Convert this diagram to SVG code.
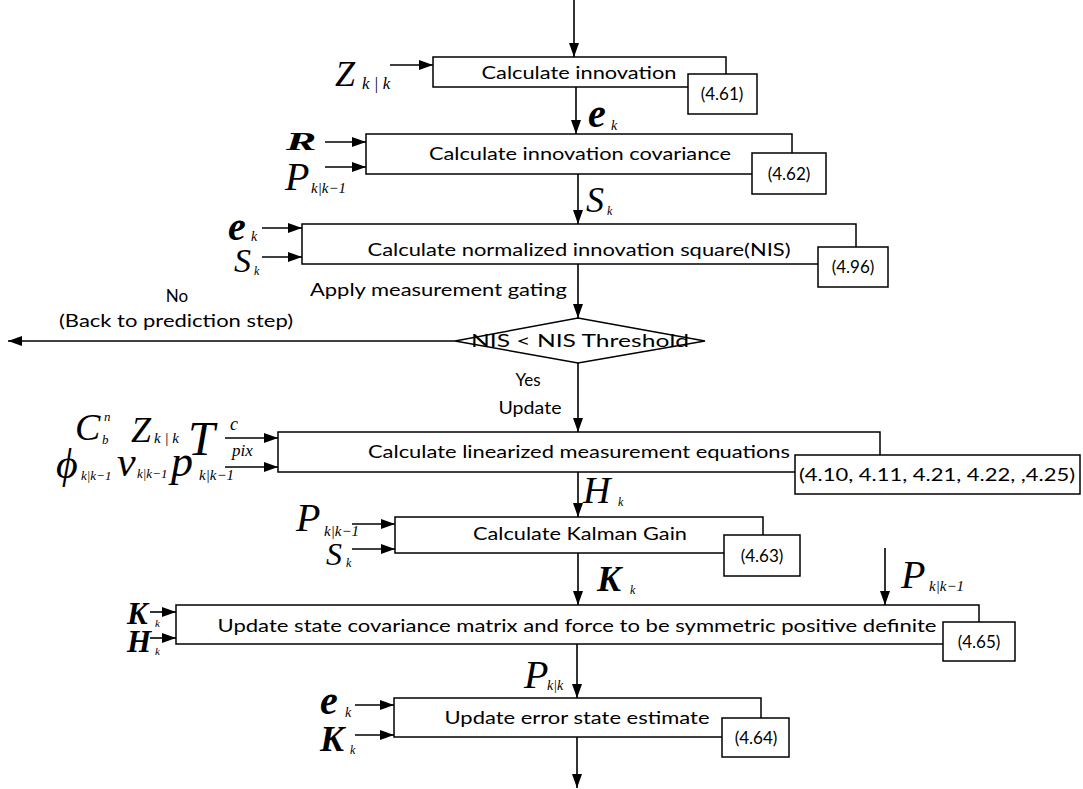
<svg xmlns="http://www.w3.org/2000/svg" width="1083" height="789" viewBox="0 0 1083 789">
  <defs>
    <marker id="ah" markerUnits="userSpaceOnUse" markerWidth="14" markerHeight="10" refX="14" refY="5" orient="auto">
      <path d="M0,0 L14,5 L0,10 z" fill="#000"/>
    </marker>
    <style>
      .box { fill: #fff; stroke: #000; stroke-width: 1.5; }
      .t { font-family: Lato, "Liberation Sans", sans-serif; font-size: 17px; text-anchor: middle; fill: #000; }
      .lbl { font-family: Lato, "Liberation Sans", sans-serif; font-size: 17px; fill: #000; }
      .m { font-family: "Liberation Serif", "DejaVu Serif", serif; font-style: italic; fill: #000; }
      .mb { font-family: "Liberation Serif", "DejaVu Serif", serif; font-style: italic; font-weight: bold; fill: #000; }
      .c { stroke: #000; stroke-width: 1.6; fill: none; marker-end: url(#ah); }
    </style>
  </defs>
  <rect width="1083" height="789" fill="#fff"/>

  <!-- connectors -->
  <g id="connectors">
    <line class="c" x1="574" y1="0" x2="574" y2="57"/>
    <line class="c" x1="390" y1="65" x2="433" y2="65"/>
    <line class="c" x1="576" y1="87" x2="576" y2="134"/>
    <line class="c" x1="325" y1="142" x2="366" y2="142"/>
    <line class="c" x1="325" y1="167" x2="366" y2="167"/>
    <line class="c" x1="578" y1="174" x2="578" y2="224"/>
    <line class="c" x1="262" y1="228" x2="302" y2="228"/>
    <line class="c" x1="262" y1="257" x2="302" y2="257"/>
    <line class="c" x1="578" y1="264" x2="578" y2="318"/>
    <line class="c" x1="455" y1="341" x2="8" y2="341"/>
    <line class="c" x1="578" y1="363" x2="578" y2="432"/>
    <line class="c" x1="225" y1="438" x2="278" y2="438"/>
    <line class="c" x1="225" y1="467" x2="278" y2="467"/>
    <line class="c" x1="578" y1="472" x2="578" y2="517"/>
    <line class="c" x1="352" y1="524" x2="395" y2="524"/>
    <line class="c" x1="352" y1="549" x2="395" y2="549"/>
    <line class="c" x1="578" y1="553" x2="578" y2="605"/>
    <line class="c" x1="885" y1="548" x2="885" y2="605"/>
    <line class="c" x1="150" y1="612" x2="176" y2="612"/>
    <line class="c" x1="150" y1="638" x2="176" y2="638"/>
    <line class="c" x1="577" y1="644" x2="577" y2="698"/>
    <line class="c" x1="355" y1="705" x2="394" y2="705"/>
    <line class="c" x1="355" y1="735" x2="394" y2="735"/>
    <line class="c" x1="577" y1="737" x2="577" y2="788"/>
  </g>

  <!-- step 1: innovation -->
  <g id="n-innov">
    <rect class="box" x="433" y="57" width="293" height="30"/>
    <text class="t" x="579" y="79" textLength="195" lengthAdjust="spacingAndGlyphs">Calculate innovation</text>
    <rect class="box" x="688" y="74" width="69" height="40"/>
    <text class="t" x="722" y="100">(4.61)</text>
  </g>
  <g id="in-innov">
    <text class="m" x="335" y="86" font-size="36">Z</text>
    <text class="m" x="362" y="89" font-size="17">k | k</text>
  </g>
  <g id="lbl-e1">
    <text class="mb" x="588" y="127" font-size="40">e</text>
    <text class="m" x="611" y="130" font-size="14">k</text>
  </g>

  <!-- step 2: innovation covariance -->
  <g id="n-innovcov">
    <rect class="box" x="366" y="134" width="426" height="40"/>
    <text class="t" x="580" y="160" textLength="302" lengthAdjust="spacingAndGlyphs">Calculate innovation covariance</text>
    <rect class="box" x="752" y="153" width="74" height="41"/>
    <text class="t" x="789" y="180">(4.62)</text>
  </g>
  <g id="in-innovcov">
    <text class="mb" x="0" y="0" font-size="26" transform="translate(286,150) scale(1.75,1)">R</text>
    <text class="m" x="285" y="190" font-size="40">P</text>
    <text class="m" x="311" y="193" font-size="15">k|k−1</text>
  </g>
  <g id="lbl-s1">
    <text class="m" x="586" y="212" font-size="36">S</text>
    <text class="m" x="607" y="215" font-size="12">k</text>
  </g>

  <!-- step 3: NIS -->
  <g id="n-nis">
    <rect class="box" x="302" y="224" width="554" height="40"/>
    <text class="t" x="579" y="256" textLength="423" lengthAdjust="spacingAndGlyphs">Calculate normalized innovation square(NIS)</text>
    <rect class="box" x="818" y="247" width="70" height="40"/>
    <text class="t" x="853" y="273">(4.96)</text>
  </g>
  <g id="in-nis">
    <text class="mb" x="228" y="240" font-size="40">e</text>
    <text class="m" x="251" y="241" font-size="14">k</text>
    <text class="m" x="234" y="272" font-size="34">S</text>
    <text class="m" x="254" y="275" font-size="12">k</text>
  </g>
  <text class="lbl" x="310" y="296" textLength="257" lengthAdjust="spacingAndGlyphs">Apply measurement gating</text>

  <!-- gating decision -->
  <g id="n-gate">
    <polygon class="box" points="455,341 578,318 705,341 578,363"/>
    <text class="t" x="580" y="347" textLength="218" lengthAdjust="spacingAndGlyphs">NIS &lt; NIS Threshold</text>
  </g>
  <text class="t" x="177" y="302">No</text>
  <text class="t" x="176" y="327" textLength="234" lengthAdjust="spacingAndGlyphs">(Back to prediction step)</text>
  <text class="t" x="528" y="386">Yes</text>
  <text class="t" x="530" y="414" textLength="63" lengthAdjust="spacingAndGlyphs">Update</text>

  <!-- step 4: linearized measurement equations -->
  <g id="n-linear">
    <rect class="box" x="278" y="432" width="602" height="40"/>
    <text class="t" x="579" y="458" textLength="422" lengthAdjust="spacingAndGlyphs">Calculate linearized measurement equations</text>
    <rect class="box" x="795" y="455" width="285" height="39"/>
    <text class="t" x="937" y="481" textLength="276" lengthAdjust="spacingAndGlyphs">(4.10, 4.11, 4.21, 4.22, ,4.25)</text>
  </g>
  <g id="in-linear">
    <text class="m" x="75" y="440" font-size="38">C</text>
    <text class="m" x="104" y="421" font-size="13">n</text>
    <text class="m" x="102" y="444" font-size="13">b</text>
    <text class="m" x="131" y="442" font-size="36">Z</text>
    <text class="m" x="154" y="443" font-size="15">k | k</text>
    <text class="m" x="188" y="455" font-size="48">T</text>
    <text class="m" x="230" y="430" font-size="18">c</text>
    <text class="m" x="232" y="456" font-size="17">pix</text>
    <text class="m" x="56" y="478" font-size="42">ϕ</text>
    <text class="m" x="81" y="480" font-size="13">k|k−1</text>
    <text class="m" x="117" y="476" font-size="42">v</text>
    <text class="m" x="137" y="478" font-size="13">k|k−1</text>
    <text class="m" x="171" y="476" font-size="44">p</text>
    <text class="m" x="199" y="480" font-size="15">k|k−1</text>
  </g>
  <g id="lbl-h">
    <text class="m" x="583" y="503" font-size="38">H</text>
    <text class="m" x="618" y="506" font-size="12">k</text>
  </g>

  <!-- step 5: Kalman gain -->
  <g id="n-kalman">
    <rect class="box" x="395" y="517" width="368" height="36"/>
    <text class="t" x="580" y="540" textLength="214" lengthAdjust="spacingAndGlyphs">Calculate Kalman Gain</text>
    <rect class="box" x="724" y="535" width="76" height="41"/>
    <text class="t" x="762" y="562">(4.63)</text>
  </g>
  <g id="in-kalman">
    <text class="m" x="296" y="531" font-size="40">P</text>
    <text class="m" x="324" y="536" font-size="15">k|k−1</text>
    <text class="m" x="326" y="565" font-size="32">S</text>
    <text class="m" x="346" y="567" font-size="12">k</text>
  </g>
  <g id="lbl-k1">
    <text class="mb" x="597" y="591" font-size="36">K</text>
    <text class="m" x="630" y="594" font-size="12">k</text>
  </g>
  <g id="in-p-cov">
    <text class="m" x="901" y="588" font-size="40">P</text>
    <text class="m" x="929" y="591" font-size="15">k|k−1</text>
  </g>

  <!-- step 6: state covariance update -->
  <g id="n-cov">
    <rect class="box" x="176" y="605" width="803" height="39"/>
    <text class="t" x="577" y="632" textLength="719" lengthAdjust="spacingAndGlyphs">Update state covariance matrix and force  to be symmetric positive definite</text>
    <rect class="box" x="943" y="622" width="72" height="39"/>
    <text class="t" x="979" y="648">(4.65)</text>
  </g>
  <g id="in-cov">
    <text class="mb" x="127" y="624" font-size="31">K</text>
    <text class="m" x="155" y="627" font-size="11">k</text>
    <text class="mb" x="127" y="652" font-size="31">H</text>
    <text class="m" x="155" y="655" font-size="11">k</text>
  </g>
  <g id="lbl-pkk">
    <text class="m" x="524" y="688" font-size="40">P</text>
    <text class="m" x="547" y="690" font-size="14">k|k</text>
  </g>

  <!-- step 7: error state update -->
  <g id="n-state">
    <rect class="box" x="394" y="698" width="367" height="39"/>
    <text class="t" x="577" y="724" textLength="265" lengthAdjust="spacingAndGlyphs">Update error state estimate</text>
    <rect class="box" x="722" y="718" width="67" height="39"/>
    <text class="t" x="756" y="744">(4.64)</text>
  </g>
  <g id="in-state">
    <text class="mb" x="320" y="714" font-size="40">e</text>
    <text class="m" x="345" y="717" font-size="14">k</text>
    <text class="mb" x="320" y="751" font-size="36">K</text>
    <text class="m" x="350" y="754" font-size="12">k</text>
  </g>
</svg>
